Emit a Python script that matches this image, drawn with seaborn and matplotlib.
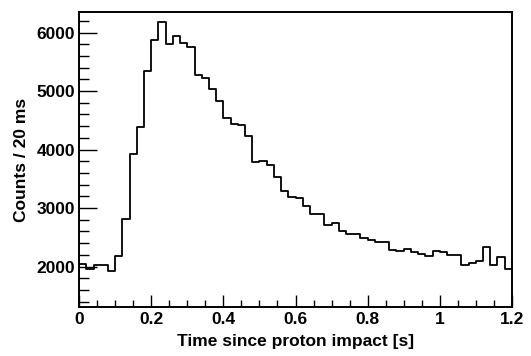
import numpy as np
import pandas as pd
import seaborn as sns
import matplotlib
matplotlib.use("Agg")
import matplotlib.pyplot as plt
from matplotlib.ticker import MultipleLocator, FuncFormatter

# 20 ms bins from 0 to 1.2 s
bin_width = 0.02
bin_edges = [round(i * bin_width, 3) for i in range(61)]
counts = [2041, 1955, 2030, 2030, 1926, 2183, 2813, 3916, 4384, 5339,
          5876, 6174, 5807, 5944, 5825, 5756, 5282, 5224, 5030, 4830,
          4533, 4442, 4425, 4230, 3784, 3796, 3730, 3527, 3298, 3184,
          3173, 3029, 2898, 2898, 2705, 2744, 2600, 2549, 2549, 2487,
          2446, 2424, 2424, 2286, 2257, 2298, 2240, 2218, 2183, 2257,
          2240, 2200, 2200, 2024, 2058, 2086, 2326, 2029, 2171, 1955]
x_label = "Time since proton impact [s]"
y_label = "Counts / 20 ms"

centers = [e + bin_width / 2 for e in bin_edges[:-1]]
df = pd.DataFrame({"time": centers, "counts": counts})

sns.set_style("white")
plt.rcParams["font.family"] = ["Liberation Sans", "DejaVu Sans"]
plt.rcParams["font.weight"] = "bold"
plt.rcParams["text.color"] = "black"
plt.rcParams["axes.labelcolor"] = "black"
plt.rcParams["xtick.color"] = "black"
plt.rcParams["ytick.color"] = "black"

fs = 12.5
fig = plt.figure(figsize=(5.31, 3.56), dpi=100)
ax = fig.add_axes([0.149, 0.138, 0.815, 0.828])

sns.histplot(data=df, x="time", weights="counts", bins=bin_edges,
             element="step", fill=False, color="black", linewidth=1.3, ax=ax)

ax.set_xlim(0, 1.2)
ax.set_ylim(1310, 6350)
ax.set_xlabel(x_label, fontsize=fs, fontweight="bold", labelpad=5, color="black")
ax.set_ylabel(y_label, fontsize=fs, fontweight="bold", labelpad=5, color="black")

ax.xaxis.set_major_locator(MultipleLocator(0.2))
ax.xaxis.set_minor_locator(MultipleLocator(0.05))
ax.yaxis.set_major_locator(MultipleLocator(1000))
ax.yaxis.set_minor_locator(MultipleLocator(200))

def fmt(v, pos):
    s = f"{v:.1f}"
    if s.endswith(".0"):
        s = s[:-2]
    return s
ax.xaxis.set_major_formatter(FuncFormatter(fmt))

ax.tick_params(axis="both", which="both", direction="in", color="black",
               labelcolor="black", labelsize=fs,
               bottom=True, left=True, top=False, right=False)
ax.tick_params(axis="x", which="major", length=9, width=1.0, pad=4)
ax.tick_params(axis="x", which="minor", length=5, width=1.0)
ax.tick_params(axis="y", which="major", length=13, width=1.0, pad=3)
ax.tick_params(axis="y", which="minor", length=7, width=1.0)
for lab in ax.get_xticklabels() + ax.get_yticklabels():
    lab.set_fontweight("bold")

for sp in ax.spines.values():
    sp.set_visible(True)
    sp.set_color("black")
    sp.set_linewidth(1.4)

fig.savefig("out.png", dpi=100)
